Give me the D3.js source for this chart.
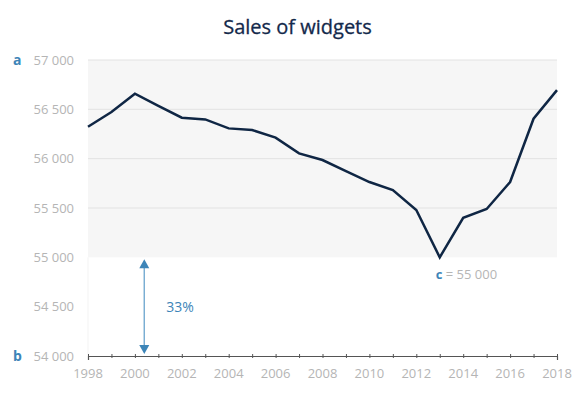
<!DOCTYPE html>
<html>
<head>
<meta charset="utf-8">
<script src="https://cdn.jsdelivr.net/npm/d3@7"></script>
<style>
  body { margin: 0; background: #fff; }
  text { font-family: "Open Sans", "Noto Sans", sans-serif; }
</style>
</head>
<body>
<div id="chart"></div>
<script>
// Sales of widgets, 1998-2018
const years = [1998, 1999, 2000, 2001, 2002, 2003, 2004, 2005, 2006, 2007, 2008,
               2009, 2010, 2011, 2012, 2013, 2014, 2015, 2016, 2017, 2018]
const sales = [56324, 56472, 56659, 56535, 56415, 56398, 56307, 56290, 56213, 56054, 55986,
               55874, 55763, 55682, 55480, 55000, 55400, 55490, 55763, 56405, 56695]

const yTicks = [54000, 54500, 55000, 55500, 56000, 56500, 57000]
const xTickLabels = [1998, 2000, 2002, 2004, 2006, 2008, 2010, 2012, 2014, 2016, 2018]
const gridValues = [55500, 56000, 56500, 57000]
const bandRange = [55000, 57000]
const arrowRange = [54000, 55000]
const arrowYear = 2000.4

const W = 585, H = 393
const margin = { top: 60, right: 28, bottom: 37, left: 88 }
const width = W - margin.left - margin.right
const height = H - margin.top - margin.bottom

const blue = '#3d85b8'
const grey = '#b5b5b5'

const x = d3.scaleLinear().domain([1998, 2018]).range([0, width])
const y = d3.scaleLinear().domain([54000, 57000]).range([height, 0])

const fmtSp = v => d3.format(',')(v).replace(',', ' ')

const svg = d3.select('#chart')
    .append('svg')
    .attr('width', W)
    .attr('height', H)

svg.append('text')
    .attr('x', W / 2 + 5)
    .attr('y', 34)
    .attr('text-anchor', 'middle')
    .attr('font-size', '20px')
    .attr('fill', '#13294b')
    .attr('stroke', '#13294b')
    .attr('stroke-width', 0.3)
    .text('Sales of widgets')

const g = svg.append('g')
    .attr('transform', `translate(${margin.left},${margin.top})`)

// grey band
g.append('rect')
    .attr('x', 0)
    .attr('y', y(bandRange[1]))
    .attr('width', width)
    .attr('height', y(bandRange[0]) - y(bandRange[1]))
    .attr('fill', '#f6f6f6')

// faint left edge below the band
g.append('line')
    .attr('x1', 0).attr('x2', 0)
    .attr('y1', y(55000)).attr('y2', height)
    .attr('stroke', '#f3f3f3')

// gridlines
g.selectAll('.grid')
    .data(gridValues)
    .join('line')
    .attr('class', 'grid')
    .attr('x1', 0).attr('x2', width)
    .attr('y1', d => y(d)).attr('y2', d => y(d))
    .attr('stroke', '#e2e2e2')
    .attr('stroke-width', 1)

// y tick labels
g.selectAll('.ylab')
    .data(yTicks)
    .join('text')
    .attr('class', 'ylab')
    .attr('x', -14)
    .attr('y', d => y(d))
    .attr('dy', '0.35em')
    .attr('text-anchor', 'end')
    .attr('font-size', '13px')
    .attr('fill', grey)
    .text(d => fmtSp(d))

// a / b markers
g.append('text')
    .attr('x', -75).attr('y', y(57000)).attr('dy', '0.35em')
    .attr('font-size', '14px').attr('font-weight', 'bold')
    .attr('fill', blue).text('a')
g.append('text')
    .attr('x', -75).attr('y', y(54000)).attr('dy', '0.35em')
    .attr('font-size', '14px').attr('font-weight', 'bold')
    .attr('fill', blue).text('b')

// x axis
const xAxis = g.append('g')
    .attr('transform', `translate(0,${height})`)
    .call(d3.axisBottom(x).tickValues(years).tickSize(4).tickFormat(''))
xAxis.select('.domain').attr('stroke', '#555').attr('stroke-width', 1.2)
xAxis.selectAll('.tick line').attr('stroke', '#555').attr('transform', 'translate(0,-2)')

g.selectAll('.xlab')
    .data(xTickLabels)
    .join('text')
    .attr('class', 'xlab')
    .attr('x', d => x(d))
    .attr('y', height + 22)
    .attr('text-anchor', 'middle')
    .attr('font-size', '13px')
    .attr('fill', grey)
    .text(d => d)

// sales line
const line = d3.line()
    .x((d, i) => x(years[i]))
    .y(d => y(d))

g.append('path')
    .datum(sales)
    .attr('d', line)
    .attr('fill', 'none')
    .attr('stroke', '#0f2644')
    .attr('stroke-width', 2.5)
    .attr('stroke-linejoin', 'miter')

// minimum label
const minIdx = sales.indexOf(d3.min(sales))
const cLabel = g.append('text')
    .attr('x', x(years[minIdx]) - 4)
    .attr('y', y(sales[minIdx]) + 22)
    .attr('font-size', '13px')
cLabel.append('tspan').attr('fill', blue).attr('font-weight', 'bold').text('c')
cLabel.append('tspan').attr('fill', grey).text(' = ' + fmtSp(sales[minIdx]))

// 33% arrow
const ax = x(arrowYear)
const ay1 = y(arrowRange[1]) + 2
const ay2 = y(arrowRange[0]) - 2
g.append('line')
    .attr('x1', ax).attr('x2', ax)
    .attr('y1', ay1 + 8).attr('y2', ay2 - 8)
    .attr('stroke', '#7aaed3').attr('stroke-width', 1.5)
g.append('path')
    .attr('d', `M${ax},${ay1} l-5,9 l10,0 Z`)
    .attr('fill', blue)
g.append('path')
    .attr('d', `M${ax},${ay2} l-5,-9 l10,0 Z`)
    .attr('fill', blue)

const pct = Math.round((arrowRange[1] - arrowRange[0]) / (57000 - 54000) * 100)
g.append('text')
    .attr('x', ax + 22)
    .attr('y', (ay1 + ay2) / 2)
    .attr('dy', '0.35em')
    .attr('font-size', '14px')
    .attr('fill', blue)
    .text(pct + '%')
</script>
</body>
</html>
